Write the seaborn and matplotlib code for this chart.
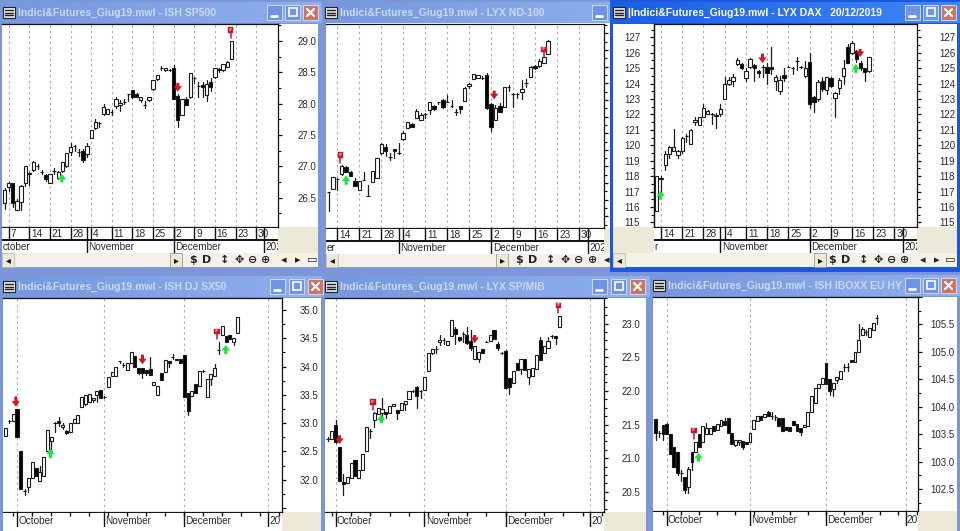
#!/usr/bin/env python3
# six MetaStock-style candlestick windows, Indici&Futures watchlist Dec 2019
import numpy as np
import pandas as pd
import seaborn as sn
import matplotlib
matplotlib.use("Agg")
import matplotlib.pyplot as plt
from matplotlib.patches import Rectangle
from matplotlib.ticker import FuncFormatter, MultipleLocator, NullFormatter

#%% data
# SP500, first candle is one session before Oct 7
sp500_open = [26.42, 26.67, 26.73, 26.30, 26.43, 26.73, 26.89, 26.94, 27.00, 26.91,
              26.86, 26.73, 26.93, 26.82, 26.93, 27.00, 27.22, 27.32, 27.22, 27.24,
              27.19, 27.45, 27.61, 27.69, 27.84, 27.84, 27.87, 27.96, 27.97, 28.03,
              28.15, 28.21, 28.16, 28.05, 27.98, 28.05, 28.23, 28.40, 28.57, 28.53,
              28.54, 28.56, 28.12, 27.82, 28.08, 28.10, 28.41, 28.28, 28.30, 28.13,
              28.34, 28.42, 28.55, 28.53, 28.59, 28.71]
sp500_high = [26.65, 26.75, 26.74, 26.47, 26.70, 27.01, 26.90, 27.08, 27.03, 26.94,
              26.87, 26.88, 26.97, 26.92, 27.07, 27.21, 27.37, 27.34, 27.27, 27.27,
              27.37, 27.58, 27.76, 27.70, 27.99, 27.92, 27.90, 28.11, 28.05, 28.08,
              28.16, 28.22, 28.17, 28.10, 28.04, 28.10, 28.38, 28.45, 28.60, 28.57,
              28.55, 28.62, 28.15, 28.08, 28.10, 28.48, 28.42, 28.35, 28.35, 28.38,
              28.41, 28.57, 28.56, 28.63, 28.68, 29.00]
sp500_low = [26.31, 26.60, 26.35, 26.30, 26.30, 26.68, 26.70, 26.93, 26.95, 26.88,
             26.77, 26.73, 26.88, 26.80, 26.90, 26.98, 27.18, 27.25, 27.16, 27.07,
             27.14, 27.45, 27.60, 27.62, 27.82, 27.83, 27.82, 27.93, 27.88, 28.00,
             28.04, 28.09, 28.10, 28.02, 27.93, 28.04, 28.22, 28.38, 28.54, 28.52,
             28.52, 28.07, 27.62, 27.81, 27.97, 28.09, 28.33, 28.11, 28.10, 28.04,
             28.20, 28.41, 28.50, 28.52, 28.58, 28.71]
sp500_close = [26.62, 26.74, 26.41, 26.45, 26.68, 27.01, 26.87, 27.06, 27.00, 26.91,
               26.79, 26.87, 26.93, 26.91, 27.06, 27.21, 27.31, 27.33, 27.22, 27.10,
               27.32, 27.58, 27.71, 27.69, 27.94, 27.91, 27.87, 28.08, 28.01, 28.03,
               28.15, 28.10, 28.11, 28.10, 27.98, 28.10, 28.38, 28.45, 28.57, 28.57,
               28.54, 28.08, 27.73, 28.08, 27.98, 28.48, 28.41, 28.28, 28.26, 28.32,
               28.27, 28.56, 28.54, 28.63, 28.67, 29.00]

# ND-100, price labels are hidden behind the DAX window so the scale is relative
nd100_open = [14.22, 14.32, 14.63, 14.76, 14.98, 14.84, 14.56, 14.30, 14.59, 14.11,
              14.53, 14.65, 15.40, 15.60, 15.30, 15.54, 15.40, 15.82, 16.15, 16.28,
              16.47, 16.40, 16.57, 16.69, 16.83, 16.94, 17.01, 16.94, 16.81, 16.63,
              16.82, 16.98, 17.42, 17.64, 17.67, 17.66, 17.75, 16.88, 16.40, 16.82,
              16.80, 17.38, 17.17, 17.17, 17.23, 17.52, 17.70, 18.02, 18.01, 18.11,
              18.38]
nd100_high = [14.22, 14.68, 14.64, 15.03, 15.00, 14.86, 14.65, 14.57, 14.82, 14.45,
              14.87, 15.25, 15.70, 15.68, 15.40, 15.50, 15.72, 16.08, 16.35, 16.30,
              16.72, 16.60, 16.62, 16.84, 16.84, 16.95, 17.04, 17.15, 17.00, 16.72,
              16.83, 17.38, 17.50, 17.77, 17.76, 17.72, 17.82, 16.90, 16.85, 16.90,
              17.38, 17.44, 17.20, 17.21, 17.60, 17.64, 18.02, 18.04, 18.22, 18.29,
              18.79]
nd100_low = [13.67, 14.32, 14.30, 14.74, 14.82, 14.70, 14.40, 14.29, 14.58, 14.10,
             14.53, 14.65, 15.38, 15.32, 15.20, 15.25, 15.39, 15.81, 16.15, 16.18,
             16.45, 16.39, 16.47, 16.57, 16.71, 16.88, 16.76, 16.93, 16.80, 16.54,
             16.60, 16.97, 17.37, 17.64, 17.67, 17.64, 16.74, 16.08, 16.39, 16.64,
             16.80, 17.28, 16.78, 17.07, 17.02, 17.38, 17.68, 17.92, 18.00, 18.11,
             18.37]
nd100_close = [14.22, 14.68, 14.63, 15.00, 14.84, 14.71, 14.42, 14.55, 14.59, 14.11,
               14.87, 15.25, 15.68, 15.47, 15.30, 15.46, 15.40, 16.00, 16.35, 16.19,
               16.66, 16.55, 16.57, 16.95, 16.73, 16.94, 16.78, 16.94, 16.81, 16.63,
               16.74, 17.36, 17.48, 17.77, 17.76, 17.66, 16.75, 16.18, 16.77, 16.65,
               17.38, 17.38, 17.17, 17.17, 17.32, 17.52, 18.00, 17.95, 18.18, 18.29,
               18.76]

# DAX, first candle is one session before Oct 14
dax_open = [115.75, 117.80, 118.70, 119.45, 119.65, 119.40, 119.65, 120.60, 120.10, 121.50,
            121.30, 121.85, 122.00, 122.05, 121.95, 122.00, 123.00, 123.95, 124.15, 125.25,
            125.25, 124.35, 125.10, 125.20, 124.80, 125.10, 125.10, 125.05, 124.15, 123.50,
            124.55, 125.10, 125.00, 125.45, 125.05, 124.50, 125.40, 123.15, 123.00, 124.15,
            123.60, 124.35, 123.05, 123.70, 124.50, 126.40, 126.00, 126.10, 125.30, 125.00,
            124.80]
dax_high = [118.00, 118.00, 119.65, 119.95, 121.05, 119.70, 120.55, 120.75, 121.05, 121.85,
            121.85, 122.70, 122.30, 122.10, 122.10, 122.70, 124.40, 124.40, 124.60, 125.65,
            125.35, 125.00, 125.65, 125.25, 124.85, 125.20, 125.30, 126.35, 124.55, 124.50,
            125.00, 125.15, 125.05, 125.70, 125.15, 125.45, 125.95, 123.20, 124.25, 124.45,
            124.40, 124.40, 123.45, 124.35, 125.50, 126.55, 126.75, 126.20, 125.45, 125.00,
            125.75]
dax_low = [115.75, 116.80, 118.40, 119.20, 119.60, 119.15, 119.50, 120.20, 120.10, 121.30,
           121.30, 121.80, 122.00, 121.40, 121.10, 121.90, 123.00, 123.90, 123.85, 125.20,
           124.95, 124.15, 125.00, 124.15, 124.40, 124.40, 123.95, 124.60, 123.55, 123.30,
           124.15, 125.10, 124.65, 124.90, 125.00, 124.45, 122.40, 122.15, 122.85, 123.50,
           123.30, 123.80, 121.85, 123.30, 124.00, 125.30, 125.90, 125.40, 124.90, 124.15,
           124.75]
dax_close = [118.00, 117.90, 119.40, 119.90, 119.90, 119.60, 120.50, 120.60, 121.00, 121.65,
             121.85, 122.40, 122.25, 122.05, 121.90, 122.35, 124.00, 124.20, 124.45, 125.50,
             125.00, 124.80, 125.60, 125.00, 124.70, 125.10, 124.70, 124.95, 124.40, 124.25,
             124.35, 125.10, 125.00, 125.45, 125.05, 125.00, 122.65, 122.80, 124.10, 123.65,
             124.40, 123.85, 123.40, 124.25, 125.00, 125.35, 126.60, 125.60, 125.00, 124.75,
             125.75]

# SX50, first candle is three sessions before Oct 1
sx50_open = [32.77, 33.03, 33.03, 33.25, 32.50, 31.80, 31.88, 32.03, 32.20, 31.97,
             32.06, 32.50, 32.69, 33.00, 33.03, 32.93, 32.86, 32.84, 33.00, 33.00,
             33.28, 33.34, 33.37, 33.41, 33.50, 33.58, 33.46, 33.64, 33.84, 33.84,
             34.09, 34.03, 33.94, 34.06, 34.19, 33.98, 33.98, 33.94, 33.95, 33.68,
             33.50, 33.88, 33.91, 34.09, 34.16, 34.13, 34.13, 34.21, 33.53, 33.48,
             33.69, 33.65, 33.92, 33.47, 33.78, 33.84, 34.30, 34.55, 34.53, 34.56,
             34.44, 34.60]
sx50_high = [32.92, 33.06, 33.16, 33.25, 32.50, 31.83, 32.03, 32.31, 32.20, 32.25,
             32.40, 32.88, 32.75, 33.02, 33.10, 33.00, 32.88, 33.00, 33.08, 33.15,
             33.47, 33.50, 33.52, 33.44, 33.56, 33.58, 33.48, 33.82, 33.91, 34.00,
             34.10, 34.06, 34.06, 34.25, 34.19, 33.98, 33.98, 33.94, 34.17, 33.72,
             33.66, 33.88, 34.12, 34.10, 34.22, 34.13, 34.13, 34.21, 33.53, 33.57,
             33.69, 33.92, 33.94, 33.78, 33.86, 34.05, 34.44, 34.71, 34.53, 34.56,
             34.51, 34.88]
sx50_low = [32.77, 33.00, 33.03, 32.75, 31.83, 31.73, 31.78, 32.03, 32.06, 31.97,
            32.06, 32.50, 32.40, 32.85, 32.95, 32.90, 32.80, 32.84, 33.00, 33.00,
            33.28, 33.32, 33.37, 33.38, 33.38, 33.44, 33.44, 33.64, 33.84, 33.84,
            34.07, 34.00, 33.94, 34.06, 34.00, 33.87, 33.80, 33.85, 33.85, 33.68,
            33.50, 33.76, 33.91, 34.00, 34.14, 34.11, 34.06, 33.46, 33.15, 33.48,
            33.54, 33.65, 33.90, 33.47, 33.68, 33.84, 34.22, 34.55, 34.43, 34.48,
            34.38, 34.60]
sx50_close = [32.92, 33.03, 33.16, 32.75, 31.83, 31.80, 32.03, 32.31, 32.06, 32.13,
              32.40, 32.88, 32.75, 33.00, 33.00, 32.97, 32.83, 33.00, 33.08, 33.15,
              33.47, 33.50, 33.52, 33.44, 33.56, 33.44, 33.46, 33.82, 33.91, 34.00,
              34.09, 34.03, 34.06, 34.25, 34.00, 33.89, 33.89, 33.89, 33.85, 33.72,
              33.66, 33.76, 34.12, 34.07, 34.16, 34.12, 34.06, 33.46, 33.21, 33.57,
              33.54, 33.92, 33.92, 33.78, 33.86, 33.98, 34.30, 34.71, 34.43, 34.48,
              34.51, 34.88]

# SP/MIB, first candle is two sessions before Oct 1
spmib_open = [21.29, 21.29, 21.50, 21.17, 20.64, 20.63, 20.71, 20.98, 20.71, 20.82,
              21.10, 21.41, 21.56, 21.66, 21.67, 21.68, 21.67, 21.77, 21.71, 21.72,
              21.81, 21.88, 22.00, 22.06, 22.00, 22.01, 22.29, 22.57, 22.62, 22.72,
              22.76, 22.68, 22.81, 22.92, 22.80, 22.85, 22.83, 22.74, 22.47, 22.47,
              22.62, 22.73, 22.74, 22.91, 22.70, 22.56, 22.59, 22.19, 22.12, 22.41,
              22.32, 22.47, 22.21, 22.22, 22.33, 22.76, 22.57, 22.63, 22.81, 22.81,
              22.95]
spmib_high = [21.32, 21.41, 21.57, 21.17, 20.76, 20.72, 20.93, 20.98, 20.82, 21.06,
              21.47, 21.44, 21.68, 21.75, 21.90, 21.68, 21.77, 21.81, 21.71, 21.82,
              21.85, 22.00, 22.01, 22.07, 22.02, 22.20, 22.56, 22.62, 22.67, 22.83,
              22.78, 22.74, 23.05, 22.95, 22.80, 22.88, 22.95, 22.90, 22.66, 22.58,
              22.62, 22.74, 22.83, 22.91, 22.73, 22.58, 22.60, 22.19, 22.30, 22.41,
              22.47, 22.47, 22.33, 22.34, 22.54, 22.80, 22.66, 22.80, 22.83, 22.81,
              23.11]
spmib_low = [21.25, 21.29, 21.22, 20.66, 20.45, 20.63, 20.71, 20.74, 20.71, 20.82,
             21.10, 21.30, 21.47, 21.66, 21.55, 21.60, 21.67, 21.77, 21.58, 21.72,
             21.72, 21.88, 21.98, 21.75, 21.90, 22.01, 22.29, 22.55, 22.57, 22.68,
             22.70, 22.68, 22.81, 22.70, 22.74, 22.72, 22.70, 22.60, 22.47, 22.43,
             22.57, 22.72, 22.74, 22.77, 22.60, 22.55, 22.05, 21.95, 22.12, 22.31,
             22.25, 22.31, 22.10, 22.22, 22.33, 22.46, 22.57, 22.63, 22.78, 22.70,
             22.95]
spmib_close = [21.29, 21.41, 21.24, 20.66, 20.62, 20.72, 20.93, 20.74, 20.82, 21.06,
               21.47, 21.41, 21.67, 21.75, 21.73, 21.65, 21.77, 21.81, 21.67, 21.82,
               21.85, 22.00, 22.00, 21.93, 22.00, 22.20, 22.56, 22.62, 22.62, 22.75,
               22.76, 22.74, 23.05, 22.85, 22.75, 22.85, 22.71, 22.64, 22.66, 22.58,
               22.57, 22.73, 22.83, 22.77, 22.63, 22.56, 22.05, 22.06, 22.30, 22.31,
               22.47, 22.31, 22.33, 22.34, 22.54, 22.46, 22.66, 22.74, 22.81, 22.78,
               23.11]

# IBOXX, first candle is three sessions before Oct 1
iboxx_open = [103.77, 103.52, 103.67, 103.68, 103.50, 103.26, 103.18, 102.80, 102.72, 102.54,
              103.18, 103.18, 103.50, 103.36, 103.50, 103.51, 103.65, 103.58, 103.65, 103.74,
              103.80, 103.53, 103.30, 103.36, 103.38, 103.36, 103.35, 103.59, 103.74, 103.83,
              103.82, 103.91, 103.84, 103.81, 103.80, 103.80, 103.63, 103.63, 103.74, 103.68,
              103.62, 103.63, 103.65, 103.90, 104.06, 104.35, 104.41, 104.79, 104.50, 104.32,
              104.49, 104.50, 104.72, 104.73, 104.85, 104.81, 105.00, 105.30, 105.37, 105.28,
              105.40, 105.61]
iboxx_high = [103.77, 103.55, 103.67, 103.70, 103.50, 103.26, 103.18, 102.85, 102.72, 102.90,
              103.18, 103.36, 103.50, 103.64, 103.70, 103.62, 103.65, 103.68, 103.76, 103.80,
              103.80, 103.53, 103.39, 103.40, 103.38, 103.36, 103.53, 103.76, 103.84, 103.83,
              103.87, 103.93, 103.90, 103.85, 103.80, 103.80, 103.63, 103.63, 103.74, 103.68,
              103.62, 103.66, 103.90, 104.19, 104.35, 104.42, 104.53, 104.79, 104.50, 104.44,
              104.54, 104.65, 104.77, 104.80, 104.85, 105.00, 105.50, 105.45, 105.40, 105.43,
              105.53, 105.67]
iboxx_low = [103.40, 103.45, 103.40, 103.51, 103.13, 102.91, 102.75, 102.65, 102.43, 102.43,
             102.85, 103.18, 103.27, 103.36, 103.50, 103.51, 103.56, 103.58, 103.65, 103.67,
             103.53, 103.33, 103.28, 103.30, 103.23, 103.33, 103.35, 103.59, 103.74, 103.76,
             103.82, 103.84, 103.78, 103.75, 103.64, 103.56, 103.57, 103.56, 103.67, 103.56,
             103.48, 103.63, 103.65, 103.90, 104.06, 104.35, 104.41, 104.41, 104.22, 104.20,
             104.43, 104.50, 104.65, 104.66, 104.81, 104.81, 105.00, 105.30, 105.30, 105.28,
             105.40, 105.50]
iboxx_close = [103.52, 103.52, 103.50, 103.51, 103.13, 102.91, 102.80, 102.80, 102.48, 102.86,
               103.00, 103.36, 103.27, 103.64, 103.62, 103.62, 103.56, 103.68, 103.76, 103.67,
               103.53, 103.33, 103.39, 103.40, 103.27, 103.33, 103.53, 103.76, 103.84, 103.76,
               103.87, 103.84, 103.84, 103.81, 103.64, 103.56, 103.57, 103.56, 103.67, 103.56,
               103.54, 103.66, 103.90, 104.19, 104.35, 104.42, 104.53, 104.41, 104.29, 104.44,
               104.54, 104.65, 104.72, 104.73, 104.81, 105.00, 105.21, 105.41, 105.37, 105.43,
               105.53, 105.61]

# signals: session index, then price of tip and tail of the arrow
sp500_up = [(12.9, 26.88, 26.74)]
sp500_down = [(41, 28.19, 28.33)]
sp500_flag = [(53.8, 29.05, 29.17)]
nd100_up = [(2, 14.73, 14.45)]
nd100_down = [(35.7, 17.02, 17.28)]
nd100_flag = [(0.7, 15.10, 15.34), (47, 18.28, 18.52)]
dax_up = [(-0.1, 117.05, 116.47), (45.9, 125.27, 124.69)]
dax_down = [(23.9, 125.33, 125.94), (46.9, 125.72, 126.24)]
dax_flag = []
sx50_up = [(8.8, 32.55, 32.38), (54.9, 34.38, 34.22)]
sx50_down = [(-0.3, 33.29, 33.47), (33, 34.04, 34.21)]
sx50_flag = [(52.6, 34.48, 34.62)]
spmib_up = [(11.8, 21.65, 21.52)]
spmib_down = [(1, 21.21, 21.34), (36, 22.71, 22.83)]
spmib_flag = [(9.6, 21.72, 21.83), (57.7, 23.15, 23.27)]
iboxx_up = [(8.8, 103.16, 103.0)]
iboxx_down = []
iboxx_flag = [(7.5, 103.42, 103.57)]

week_days = [7, 14, 21, 28, 4, 11, 18, 25, 2, 9, 16, 23, 30]
month_names = ["October", "November", "December"]

#%% plot setup
sn.set_theme(style="white")
plt.rcParams["font.family"] = ["Liberation Sans", "DejaVu Sans"]
W, H = 960, 531
BEIGE = "#ece9d8"
LIGHT = "#f4f2e6"
BORDER = "#7d96d8"
ACTIVE = "#1d58dc"
TXT = "#2b2b2b"

fig = plt.figure(figsize=(W / 100, H / 100), dpi=100, facecolor=BORDER)
bg = fig.add_axes([0, 0, 1, 1], zorder=0)
bg.set_xlim(0, W)
bg.set_ylim(H, 0)
bg.axis("off")

def box(x0, y0, x1, y1, color, ec="none", lw=0):
    bg.add_patch(Rectangle((x0, y0), x1 - x0, y1 - y0, fc=color, ec=ec, lw=lw))

def px_axes(l, t, r, b, z=2):
    return fig.add_axes([l / W, 1 - b / H, (r - l) / W, (b - t) / H], zorder=z)

def window(x0, x1, y0, y1, title, active=False, btn=55, pitch=18, only_min=False):
    border = ACTIVE if active else BORDER
    box(x0, y0, x1, y1, border)
    # title gradient
    c1 = "#1a5fe6" if active else "#7696de"
    c2 = "#3f86f5" if active else "#8fb0ee"
    grad = np.linspace(0, 1, 64).reshape(1, -1)
    cmap = matplotlib.colors.LinearSegmentedColormap.from_list("t", [c1, c2])
    bg.imshow(grad, extent=(x0, x1, y0 + 23, y0 + 2), cmap=cmap, aspect="auto",
              zorder=2 if active else 1)
    bg.set_xlim(0, W)
    bg.set_ylim(H, 0)
    # system menu icon
    box(x0 + 3, y0 + 7, x0 + 15, y0 + 18, "#e8e8e8", ec="#222222", lw=0.8)
    bg.patches[-1].set_zorder(3)
    for dy in (10, 12.5, 15):
        bg.plot([x0 + 5, x0 + 13], [y0 + dy, y0 + dy], color="#222222", lw=1, zorder=3)
    bg.text(x0 + 18, y0 + 13, title, fontsize=7.5, fontweight="bold",
            color="#ffffff" if active else "#c9daf8", va="center", zorder=3)
    # min / max / close buttons, the ND-100 window only shows the first one
    bx = x1 - btn
    for k, col in enumerate(["#6f93e6", "#6f93e6", "#cf7362"][:1 if only_min else 3]):
        box(bx + k * pitch, y0 + 5, bx + k * pitch + 15, y0 + 20, col, ec="#dde6fa", lw=0.6)
        bg.patches[-1].set_zorder(3)
    bg.plot([bx + 4, bx + 10], [y0 + 16, y0 + 16], color="white", lw=2, zorder=4)
    if only_min:
        return
    bg.add_patch(Rectangle((bx + pitch + 3.5, y0 + 8), 8, 8, fc="none", ec="white", lw=1.2, zorder=4))
    cx = bx + 2 * pitch
    bg.plot([cx + 4, cx + 11], [y0 + 9, y0 + 16], color="white", lw=1.6, zorder=4)
    bg.plot([cx + 4, cx + 11], [y0 + 16, y0 + 9], color="white", lw=1.6, zorder=4)

def candles(ax, first, o, h, l, c):
    o, h, l, c = [np.array(v) for v in (o, h, l, c)]
    days = first + np.arange(len(o))
    wicks = pd.DataFrame({"day": np.r_[days, days], "price": np.r_[l, h],
                          "unit": np.r_[days, days]})
    sn.lineplot(data=wicks, x="day", y="price", units="unit", estimator=None,
                color="#1c1c1c", lw=0.9, legend=False, ax=ax, zorder=2)
    fill = ["black" if cl < op else "white" for op, cl in zip(o, c)]
    ax.bar(days, c - o, bottom=o, width=0.8, color=fill, edgecolor="#1c1c1c",
           linewidth=0.8, zorder=3)
    ax.set_xlabel("")
    ax.set_ylabel("")

def signals(ax, up, down, flag):
    for col, marks in (("#19e63c", up), ("#d8141e", down)):
        for x, tip, tail in marks:
            ax.annotate("", xy=(x, tip), xytext=(x, tail), zorder=5,
                        arrowprops=dict(width=2.2, headwidth=6, headlength=4,
                                        color=col, shrink=0, lw=0))
    for x, y0, y1 in flag:
        ax.plot([x, x], [y0, y1], color="#c81428", lw=1.1, zorder=5)
        ax.text(x, y1, "DP", fontsize=2.2, color="white", ha="center", va="center", zorder=6,
                bbox=dict(fc="#c81428", ec="#c81428", pad=0.6, lw=0.3))

def style_price(ax, major, minor, labels=True, pad=11, left_pad=None, hide=()):
    fmt = "%.1f" if major < 1 else "%.0f"
    ax.yaxis.tick_right()
    ax.yaxis.set_major_locator(MultipleLocator(major))
    ax.yaxis.set_minor_locator(MultipleLocator(minor))
    ax.yaxis.set_major_formatter(FuncFormatter(
        lambda v, _: "" if round(v, 1) in hide else fmt % v))
    if not labels:
        ax.yaxis.set_major_formatter(NullFormatter())
    ax.tick_params(axis="y", which="major", length=3, width=0.9, color="#111111", pad=pad,
                   labelsize=7, labelcolor=TXT, right=True, left=False)
    ax.tick_params(axis="y", which="minor", length=2, width=0.8, color="#111111",
                   right=True, left=False)
    ax.set_facecolor("white")
    for s in ax.spines.values():
        s.set_color("#111111")
        s.set_linewidth(0.9)
    ax.spines["left"].set_visible(left_pad is not None)
    if left_pad is not None:
        sec = ax.secondary_yaxis("left")
        sec.yaxis.set_major_locator(MultipleLocator(major))
        sec.yaxis.set_minor_locator(MultipleLocator(minor))
        sec.yaxis.set_major_formatter(plt.FormatStrFormatter(fmt))
        sec.tick_params(axis="y", which="major", length=3, width=0.9, color="#111111",
                        pad=left_pad, labelsize=7, labelcolor=TXT)
        sec.tick_params(axis="y", which="minor", length=2, width=0.8, color="#111111")
        sec.spines["left"].set_color("#111111")
        sec.spines["left"].set_linewidth(0.9)

def grid_at(ax, xs):
    ax.set_xticks(xs)
    ax.tick_params(axis="x", length=0, labelbottom=False, bottom=False)
    ax.grid(axis="x", color="#a8a8a8", ls=(0, (2, 3)), lw=0.8)
    ax.set_axisbelow(True)

def week_strip(frame, xlim, first_label, weeks, months, year, left_text):
    # two date rows under the top charts
    l, b, r = frame
    st = px_axes(l, b, r, b + 26, z=2)
    st.set_xlim(*xlim)
    st.set_ylim(2, 0)
    st.set_xticks([])
    st.set_yticks([])
    st.set_facecolor("white")
    for s in st.spines.values():
        s.set_visible(False)
    st.hlines([0.02, 1], *xlim, color="#111111", lw=1.4)
    st.vlines(weeks, 0, 1, color="#111111", lw=1)
    st.vlines(months, 0, 2, color="#111111", lw=1)
    for x, d in zip(weeks, week_days[first_label:]):
        st.text(x + 0.45, 0.55, str(d), fontsize=7.2, color=TXT, va="center", clip_on=True)
    for x, m in zip(months[:2], month_names[1:]):
        st.text(x + 0.35, 1.52, m, fontsize=7.2, color=TXT, va="center", clip_on=True)
    st.text(months[2] + 0.35, 1.52, year, fontsize=7.2, color=TXT, va="center", clip_on=True)
    st.text(xlim[0] + 0.1, 1.52, left_text, fontsize=7.2, color=TXT, va="center", clip_on=True)

def month_strip(frame, xlim, weeks, months):
    # single date row under the bottom charts
    l, b, r = frame
    st = px_axes(l, b, r, b + 15, z=2)
    st.set_xlim(*xlim)
    st.set_ylim(1, 0)
    st.set_xticks([])
    st.set_yticks([])
    st.set_facecolor("white")
    for s in st.spines.values():
        s.set_visible(False)
    st.hlines(0.02, *xlim, color="#111111", lw=1.4)
    st.vlines(weeks, 0, 0.28, color="#111111", lw=1)
    st.vlines(months, 0, 1, color="#111111", lw=1)
    for x, m in zip(months, month_names + ["20"]):
        st.text(x + 0.3, 0.58, m, fontsize=7.2, color=TXT, va="center", clip_on=True)

def toolbar(x0, y0, x1, btn, icon_xs):
    box(x0, y0, x1, y0 + 14, LIGHT)
    box(x0, y0, x0 + 12, y0 + 14, BEIGE, ec="#b8b6a8", lw=0.5)
    bg.text(x0 + 6, y0 + 7, "◂", fontsize=7, color="#111111", ha="center", va="center",
            family="DejaVu Sans", zorder=3)
    box(btn, y0, btn + 12, y0 + 14, BEIGE, ec="#8c8a80", lw=0.5)
    bg.text(btn + 6, y0 + 7, "▸", fontsize=7, color="#111111", ha="center", va="center",
            family="DejaVu Sans", zorder=3)
    for x, g in zip(icon_xs, ["$", "D", "↕", "✥", "⊖", "⊕", "◂", "▸", "▭"]):
        bg.text(x, y0 + 7, g, fontsize=8, color="#222222", ha="center", va="center",
                family="DejaVu Sans", fontweight="bold", zorder=3)

#%% windows, back to front
base = "Indici&Futures_Giug19.mwl - "
window(0, 322, 0, 272, base + "ISH SP500")
box(2, 24, 318, 267, "white")
box(278, 227, 318, 253, BEIGE)
window(322, 647, 0, 272, base + "LYX ND-100", only_min=True)
box(326, 23, 647, 267, "white")
box(604, 228, 647, 253, BEIGE)
window(0, 325, 274, 531, base + "ISH DJ SX50", btn=55, pitch=19)
box(3, 298, 321, 531, "white")
box(282, 512, 321, 531, BEIGE)
window(322, 650, 274, 531, base + "LYX SP/MIB", btn=58, pitch=19)
box(325, 298, 646, 531, "white")
box(604, 512, 646, 531, BEIGE)
window(650, 960, 273, 531, base + "ISH IBOXX EU HY")
box(653, 297, 957, 531, "white")
box(918, 511, 957, 531, BEIGE)
window(610, 960, 0, 272, "|" + base + "LYX DAX   20/12/2019", active=True)
box(613, 24, 957, 267, "white")
box(613, 227, 654, 253, BEIGE)
box(917, 227, 957, 253, BEIGE)

toolbar(2, 253, 318, 170, [193, 207, 225, 239, 253, 266, 284, 298, 312])
toolbar(326, 253, 610, 496, [519, 533, 551, 565, 579, 593, 607])
toolbar(613, 253, 957, 814, [832, 846, 864, 878, 892, 905, 923, 937, 950])

#%% charts
# top row: dashed line every week
sp_lim = (-1.62, 65.3)
ax = px_axes(2, 24, 278, 227)
candles(ax, -1, sp500_open, sp500_high, sp500_low, sp500_close)
signals(ax, sp500_up, sp500_down, sp500_flag)
ax.set_xlim(*sp_lim)
ax.set_ylim(26.03, 29.27)
style_price(ax, 0.5, 0.25)
grid_at(ax, np.arange(0, 61, 5))
week_strip((2, 227, 278), sp_lim, 0, np.arange(0, 61, 5), [19, 40, 62], "202", "ctober")

nd_lim = (-2.58, 60.7)
ax = px_axes(326, 23.5, 604, 228)
candles(ax, -2, nd100_open, nd100_high, nd100_low, nd100_close)
signals(ax, nd100_up, nd100_down, nd100_flag)
ax.set_xlim(*nd_lim)
ax.set_ylim(13.15, 19.30)
style_price(ax, 0.5, 0.25, labels=False)
grid_at(ax, np.arange(0, 56, 5))
week_strip((326, 228, 604), nd_lim, 1, np.arange(0, 56, 5), [14, 35, 57], "202", "er")

dax_lim = (-1.65, 60.3)
ax = px_axes(654, 24, 917, 227)
candles(ax, -1, dax_open, dax_high, dax_low, dax_close)
signals(ax, dax_up, dax_down, dax_flag)
ax.set_xlim(*dax_lim)
ax.set_ylim(114.7, 127.86)
style_price(ax, 1, 0.5, pad=13, left_pad=7)
grid_at(ax, np.arange(0, 56, 5))
week_strip((654, 227, 917), dax_lim, 1, np.arange(0, 56, 5), [14, 35, 57], "202", "r")

# bottom row: dashed line every month
week_ticks = np.arange(-1, 70, 5)
month_ticks = [0, 23, 44, 66]

sx_lim = (-3.68, 69.7)
ax = px_axes(3, 298, 282, 512)
candles(ax, -3, sx50_open, sx50_high, sx50_low, sx50_close)
signals(ax, sx50_up, sx50_down, sx50_flag)
ax.set_xlim(*sx_lim)
ax.set_ylim(31.43, 35.21)
style_price(ax, 0.5, 0.25, pad=10, hide=(31.5,))
grid_at(ax, month_ticks)
month_strip((3, 512, 282), sx_lim, week_ticks, month_ticks)

mib_lim = (-2.77, 69.5)
ax = px_axes(325, 298, 604, 512)
candles(ax, -2, spmib_open, spmib_high, spmib_low, spmib_close)
signals(ax, spmib_up, spmib_down, spmib_flag)
ax.set_xlim(*mib_lim)
ax.set_ylim(20.2, 23.38)
style_price(ax, 0.5, 0.125, pad=10)
grid_at(ax, month_ticks)
month_strip((325, 512, 604), mib_lim, week_ticks, month_ticks)

ib_lim = (-3.77, 69.4)
ax = px_axes(653, 297, 918, 511)
candles(ax, -3, iboxx_open, iboxx_high, iboxx_low, iboxx_close)
signals(ax, iboxx_up, iboxx_down, iboxx_flag)
ax.set_xlim(*ib_lim)
ax.set_ylim(102.1, 106.0)
style_price(ax, 0.5, 0.25, pad=6, hide=(106.0,))
grid_at(ax, month_ticks)
month_strip((653, 511, 918), ib_lim, week_ticks, month_ticks)

fig.savefig("out.png", dpi=100, facecolor=fig.get_facecolor())
